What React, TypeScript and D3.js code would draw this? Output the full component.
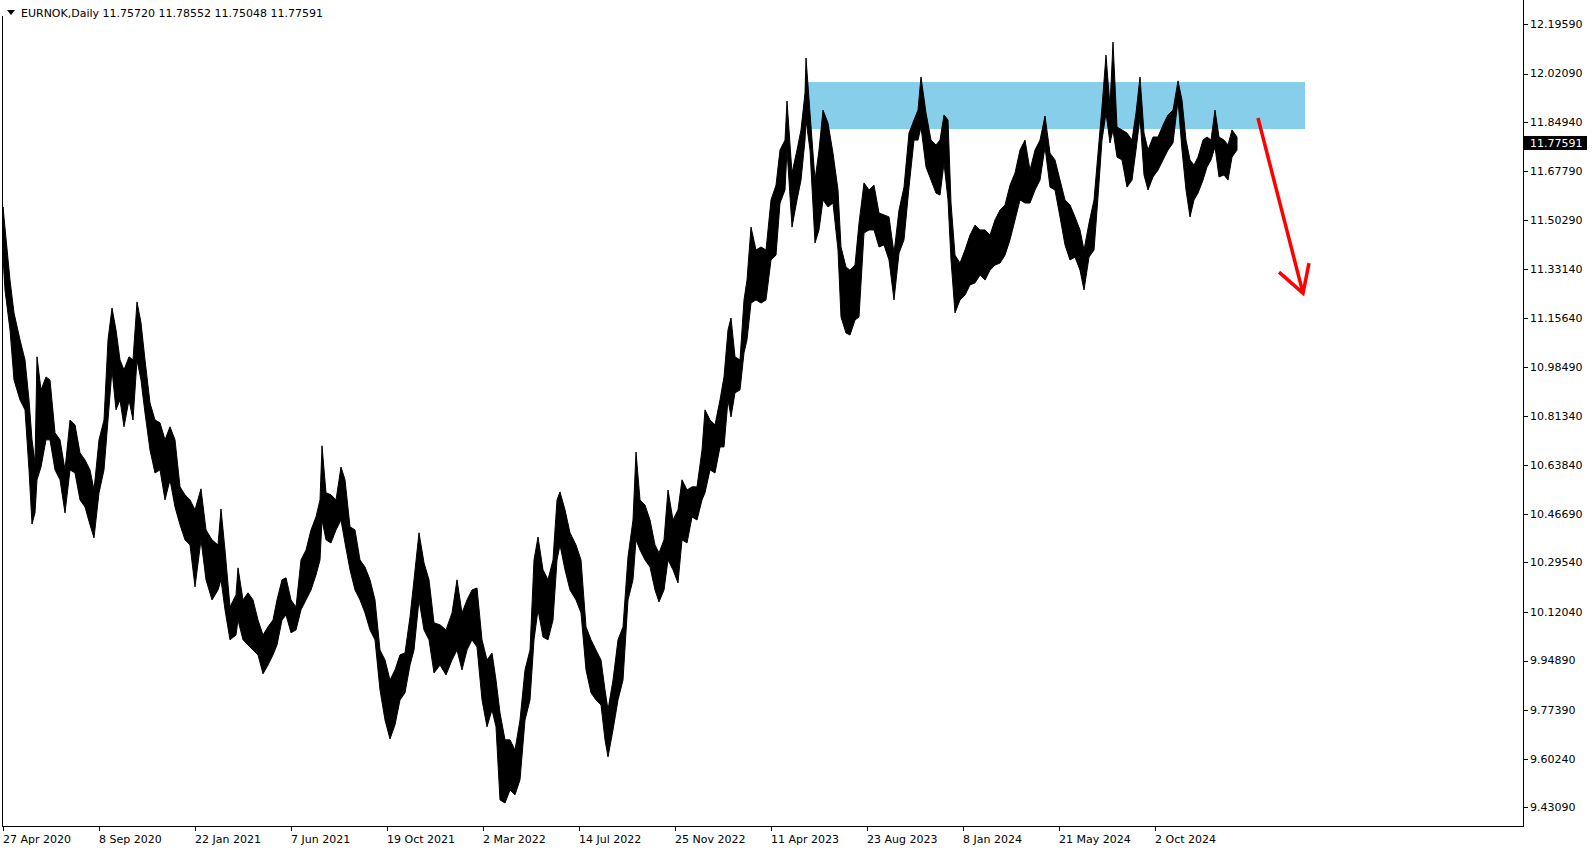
import React from 'react';
import * as d3 from 'd3';

// EURNOK daily — price envelope (bar index from the first visible bar)
const barIndex = [
  0, 2, 7, 11, 17, 22, 26, 29, 32, 34, 38, 43, 47, 52, 57, 62, 67, 72, 77, 82,
  87, 91, 96, 101, 105, 109, 113, 117, 121, 126, 130, 134, 138, 142, 147, 152, 157, 162, 167, 172,
  177, 182, 187, 192, 198, 203, 209, 215, 218, 222, 227, 233, 235, 240, 245, 250, 255, 260, 265, 270,
  274, 279, 283, 288, 293, 298, 303, 308, 313, 317, 319, 323, 328, 333, 338, 342, 347, 352, 357, 362,
  367, 372, 377, 382, 387, 392, 397, 402, 407, 411, 416, 421, 426, 431, 437, 443, 449, 454, 459, 464,
  469, 474, 479, 484, 489, 493, 497, 502, 507, 512, 517, 522, 527, 531, 535, 540, 545, 550, 554, 557,
  562, 567, 573, 578, 583, 588, 593, 598, 602, 605, 610, 615, 620, 625, 630, 633, 637, 642, 647, 652,
  656, 661, 665, 670, 675, 679, 684, 689, 694, 699, 702, 707, 712, 717, 721, 725, 728, 732, 737, 741,
  744, 748, 753, 758, 763, 768, 773, 777, 782, 784, 789, 794, 798, 802, 803, 807, 812, 816, 820, 825,
  830, 835, 838, 843, 847, 852, 856, 861, 866, 871, 876, 881, 886, 891, 896, 901, 906, 911, 915, 918,
  923, 928, 933, 937, 941, 945, 948, 952, 957, 962, 967, 972, 977, 982, 987, 992, 997, 1002, 1007, 1012,
  1017, 1022, 1027, 1032, 1037, 1042, 1047, 1052, 1057, 1062, 1067, 1072, 1077, 1081, 1086, 1091, 1095, 1099, 1103, 1107,
  1110, 1114, 1119, 1124, 1129, 1133, 1137, 1141, 1145, 1150, 1155, 1160, 1165, 1170, 1175, 1179, 1183, 1187, 1191, 1195,
  1200, 1204, 1208, 1212, 1216, 1221, 1225, 1229, 1234,
];

const highs = [
  11.550, 11.476, 11.292, 11.176, 11.081, 11.010, 10.869, 10.728, 10.647, 11.021,
  10.904, 10.950, 10.939, 10.753, 10.728, 10.622, 10.798, 10.781, 10.682, 10.657,
  10.622, 10.551, 10.728, 10.798, 11.081, 11.193, 11.116, 11.010, 10.975, 11.021,
  11.010, 11.215, 11.141, 11.010, 10.858, 10.798, 10.788, 10.728, 10.774, 10.728,
  10.562, 10.534, 10.516, 10.481, 10.555, 10.410, 10.375, 10.357, 10.484, 10.339,
  10.138, 10.181, 10.276, 10.163, 10.188, 10.163, 10.092, 10.039, 10.068, 10.092,
  10.163, 10.234, 10.241, 10.163, 10.138, 10.304, 10.339, 10.410, 10.456, 10.516,
  10.707, 10.541, 10.534, 10.516, 10.632, 10.587, 10.421, 10.410, 10.304, 10.279,
  10.234, 10.163, 9.986, 9.951, 9.880, 9.916, 9.969, 9.976, 10.103, 10.234,
  10.400, 10.294, 10.234, 10.082, 10.075, 10.057, 10.117, 10.234, 10.117, 10.163,
  10.198, 10.205, 10.022, 9.951, 9.976, 9.880, 9.764, 9.669, 9.669, 9.633,
  9.739, 9.916, 9.986, 10.304, 10.385, 10.269, 10.234, 10.304, 10.516, 10.544,
  10.481, 10.400, 10.357, 10.304, 10.068, 10.022, 9.986, 9.951, 9.845, 9.775,
  9.880, 10.022, 10.068, 10.315, 10.445, 10.685, 10.516, 10.498, 10.445, 10.357,
  10.329, 10.375, 10.551, 10.445, 10.481, 10.587, 10.551, 10.562, 10.562, 10.692,
  10.834, 10.798, 10.781, 10.869, 10.950, 11.116, 11.158, 11.021, 11.010, 11.222,
  11.292, 11.479, 11.398, 11.409, 11.398, 11.575, 11.627, 11.751, 11.786, 11.924,
  11.670, 11.751, 11.822, 11.952, 12.076, 11.882, 11.645, 11.751, 11.892, 11.846,
  11.740, 11.610, 11.409, 11.338, 11.327, 11.345, 11.493, 11.635, 11.610, 11.627,
  11.529, 11.522, 11.515, 11.387, 11.539, 11.620, 11.811, 11.857, 11.892, 12.009,
  11.882, 11.786, 11.769, 11.786, 11.875, 11.857, 11.564, 11.380, 11.352, 11.398,
  11.451, 11.486, 11.469, 11.469, 11.451, 11.504, 11.539, 11.557, 11.627, 11.670,
  11.751, 11.786, 11.680, 11.751, 11.786, 11.871, 11.740, 11.716, 11.645, 11.575,
  11.557, 11.515, 11.469, 11.398, 11.493, 11.575, 11.740, 11.903, 12.086, 11.903,
  12.132, 11.832, 11.822, 11.811, 11.786, 11.882, 12.009, 11.811, 11.751, 11.797,
  11.797, 11.839, 11.875, 11.892, 11.995, 11.927, 11.786, 11.716, 11.698, 11.726,
  11.786, 11.797, 11.786, 11.892, 11.797, 11.786, 11.769, 11.822, 11.797,
];

const lows = [
  11.373, 11.257, 11.116, 10.939, 10.869, 10.834, 10.622, 10.431, 10.470, 10.587,
  10.632, 10.728, 10.728, 10.622, 10.587, 10.470, 10.622, 10.611, 10.516, 10.491,
  10.428, 10.382, 10.541, 10.622, 10.798, 10.975, 10.834, 10.869, 10.774, 10.869,
  10.798, 11.010, 10.939, 10.823, 10.692, 10.611, 10.622, 10.516, 10.587, 10.491,
  10.428, 10.375, 10.357, 10.209, 10.375, 10.234, 10.163, 10.198, 10.234, 10.128,
  10.022, 10.039, 10.092, 10.022, 10.004, 9.986, 9.969, 9.902, 9.933, 9.969,
  10.004, 10.092, 10.110, 10.047, 10.057, 10.128, 10.163, 10.198, 10.251, 10.304,
  10.445, 10.375, 10.364, 10.410, 10.445, 10.364, 10.269, 10.198, 10.163, 10.117,
  10.057, 10.022, 9.845, 9.739, 9.672, 9.722, 9.810, 9.835, 9.933, 9.986,
  10.163, 10.057, 10.022, 9.905, 9.933, 9.898, 9.951, 9.986, 9.916, 9.986,
  10.022, 9.997, 9.810, 9.715, 9.775, 9.715, 9.457, 9.446, 9.492, 9.475,
  9.528, 9.739, 9.810, 10.022, 10.128, 10.032, 10.022, 10.092, 10.304, 10.357,
  10.269, 10.198, 10.163, 10.117, 9.916, 9.835, 9.810, 9.792, 9.669, 9.609,
  9.704, 9.810, 9.880, 10.163, 10.234, 10.375, 10.339, 10.304, 10.279, 10.198,
  10.156, 10.198, 10.304, 10.269, 10.223, 10.375, 10.364, 10.456, 10.445, 10.516,
  10.541, 10.622, 10.611, 10.703, 10.703, 10.869, 10.809, 10.894, 10.904, 11.035,
  11.081, 11.211, 11.222, 11.211, 11.222, 11.363, 11.380, 11.564, 11.610, 11.751,
  11.479, 11.575, 11.645, 11.786, 11.857, 11.751, 11.423, 11.469, 11.575, 11.550,
  11.564, 11.398, 11.162, 11.105, 11.098, 11.151, 11.162, 11.458, 11.469, 11.469,
  11.409, 11.416, 11.363, 11.222, 11.387, 11.434, 11.620, 11.786, 11.786, 11.832,
  11.691, 11.645, 11.599, 11.592, 11.705, 11.575, 11.363, 11.176, 11.222, 11.239,
  11.275, 11.282, 11.310, 11.292, 11.327, 11.345, 11.352, 11.380, 11.434, 11.504,
  11.575, 11.564, 11.564, 11.610, 11.645, 11.762, 11.620, 11.610, 11.515, 11.416,
  11.363, 11.373, 11.327, 11.257, 11.373, 11.398, 11.585, 11.786, 11.882, 11.776,
  11.822, 11.726, 11.716, 11.620, 11.645, 11.751, 11.868, 11.663, 11.610, 11.656,
  11.680, 11.716, 11.751, 11.776, 11.927, 11.751, 11.610, 11.515, 11.575, 11.599,
  11.645, 11.691, 11.716, 11.762, 11.656, 11.663, 11.645, 11.726, 11.751,
];

const priceTicks = [
  12.1959, 12.0209, 11.8494, 11.6779, 11.5029, 11.3314, 11.1564, 10.9849, 10.8134,
  10.6384, 10.4669, 10.2954, 10.1204, 9.9489, 9.7739, 9.6024, 9.4309,
];

const dateTickIndex = [0, 96, 192, 288, 384, 480, 576, 672, 768, 864, 960, 1056, 1152];
const dateTickLabels = [
  '27 Apr 2020', '8 Sep 2020', '22 Jan 2021', '7 Jun 2021', '19 Oct 2021', '2 Mar 2022',
  '14 Jul 2022', '25 Nov 2022', '11 Apr 2023', '23 Aug 2023', '8 Jan 2024', '21 May 2024', '2 Oct 2024',
];

const lastPrice = 11.77591;
const headerText = 'EURNOK,Daily  11.75720 11.78552 11.75048 11.77591';

// resistance zone and the projected move
const zoneBars = [805, 1302];
const zonePrices = [11.991, 11.825];
const arrowBars = [1255, 1300];
const arrowPrices = [11.864, 11.246];
const arrowHeadBars = [1276, 1300, 1306];
const arrowHeadPrices = [11.320, 11.246, 11.352];

const W = 1594;
const H = 850;
const axisX = 1523;
const axisY = 826;
const font = "Tahoma, 'DejaVu Sans', sans-serif";

export default function App() {
  const x = d3.scaleLinear().domain([0, 1520]).range([3, axisX]);
  const y = d3.scaleLinear().domain([9.4309, 12.1959]).range([807.3, 24]);

  const idx = d3.range(barIndex.length);
  const band = d3.area<number>()
    .x(i => x(barIndex[i]))
    .y0(i => y(lows[i]))
    .y1(i => y(highs[i]))
    .curve(d3.curveLinear)(idx) || '';

  const arrowLine = d3.line<number>()
    .x(i => x(arrowBars[i]))
    .y(i => y(arrowPrices[i]))([0, 1]) || '';
  const arrowHead = d3.line<number>()
    .x(i => x(arrowHeadBars[i]))
    .y(i => y(arrowHeadPrices[i]))([0, 1, 2]) || '';

  const lastY = y(lastPrice);

  return (
    <svg
      width={W}
      height={H}
      style={{ position: 'fixed', left: 0, top: 0, background: '#fff' }}
      fontFamily={font}
      fontSize={11}
    >
      <defs>
        <clipPath id="plot">
          <rect x={3} y={0} width={axisX - 3} height={axisY} />
        </clipPath>
      </defs>

      <rect
        x={x(zoneBars[0])}
        y={y(zonePrices[0])}
        width={x(zoneBars[1]) - x(zoneBars[0])}
        height={y(zonePrices[1]) - y(zonePrices[0])}
        fill="#87CEEB"
        clipPath="url(#plot)"
      />

      <path d={band} fill="#000" stroke="#000" strokeWidth={1} clipPath="url(#plot)" />

      <path d={arrowLine} stroke="#ff0000" strokeWidth={3.5} fill="none" />
      <path d={arrowHead} stroke="#ff0000" strokeWidth={3.5} fill="none" strokeLinejoin="miter" />

      {/* frame */}
      <g shapeRendering="crispEdges" stroke="#000" strokeWidth={1}>
        <line x1={2.5} y1={16} x2={2.5} y2={axisY + 0.5} />
        <line x1={axisX + 0.5} y1={0} x2={axisX + 0.5} y2={axisY + 0.5} />
        <line x1={2} y1={axisY + 0.5} x2={axisX + 1} y2={axisY + 0.5} />
      </g>

      {/* price axis */}
      {priceTicks.map((v, i) => (
        <g key={i}>
          <line x1={axisX + 1} x2={axisX + 5} y1={Math.round(y(v)) + 0.5} y2={Math.round(y(v)) + 0.5} stroke="#000" shapeRendering="crispEdges" />
          <text x={axisX + 7} y={y(v)} dy="0.35em" fill="#000">{v.toFixed(5)}</text>
        </g>
      ))}
      <rect x={axisX + 1} y={lastY - 7} width={63} height={14} fill="#000" />
      <text x={axisX + 7} y={lastY} dy="0.35em" fill="#fff">{lastPrice.toFixed(5)}</text>

      {/* time axis */}
      {dateTickIndex.map((b, i) => (
        <g key={i}>
          <line x1={Math.round(x(b)) + 0.5} x2={Math.round(x(b)) + 0.5} y1={axisY} y2={axisY + 5} stroke="#000" shapeRendering="crispEdges" />
          <text x={x(b)} y={axisY + 17} fill="#000">{dateTickLabels[i]}</text>
        </g>
      ))}

      {/* header */}
      <path d="M7,10 L15,10 L11,15 Z" fill="#000" />
      <text x={21} y={17} fill="#000">{headerText}</text>
    </svg>
  );
}
